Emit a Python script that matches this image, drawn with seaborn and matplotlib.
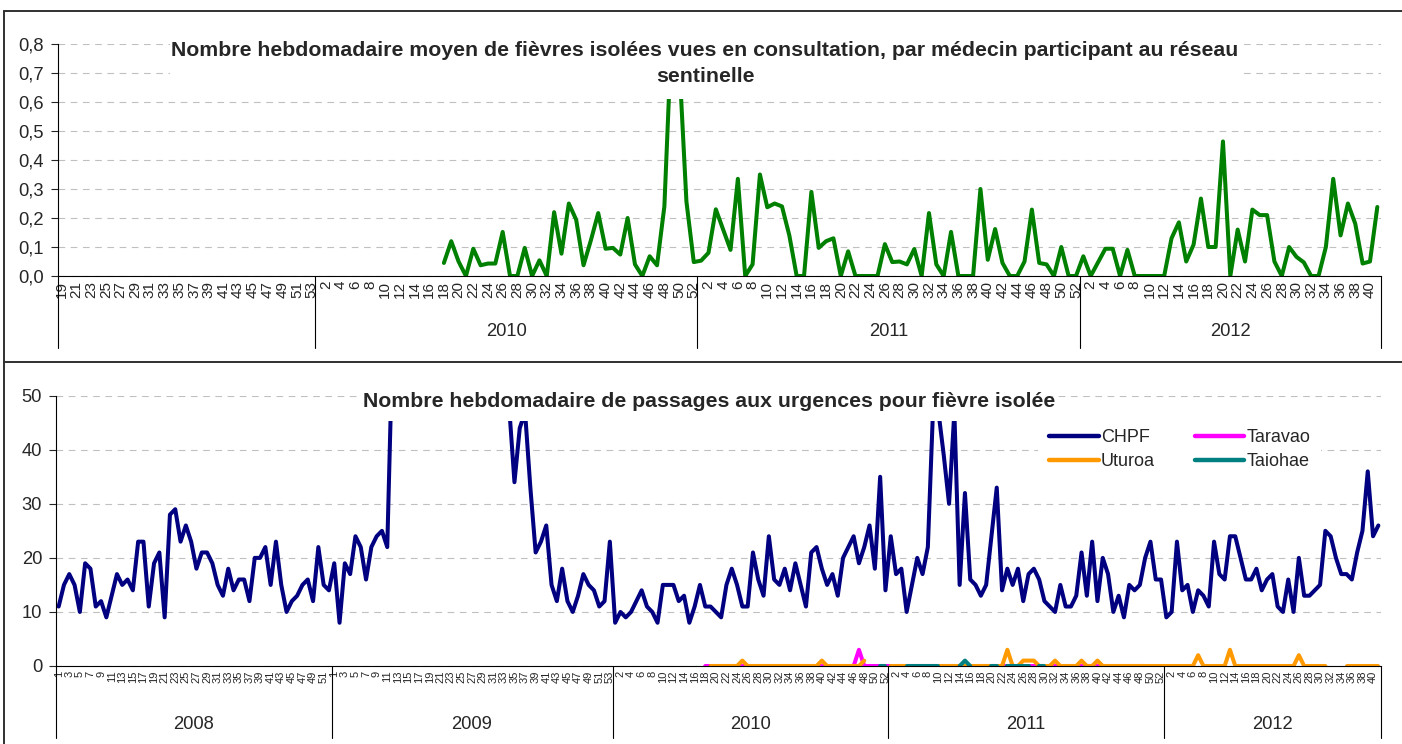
import numpy as np
import pandas as pd
import matplotlib
matplotlib.use("Agg")
import matplotlib.pyplot as plt
import matplotlib.transforms as mtransforms
from matplotlib.patches import Rectangle
from matplotlib.lines import Line2D
import seaborn as sns

# ---- axe des semaines, graphique du haut (2009-S19 -> 2012-S41)
sem_haut_2009 = list(range(19, 54))
sem_haut_2010 = list(range(1, 53))
sem_haut_2011 = list(range(1, 53))
sem_haut_2012 = list(range(1, 42))
annees_haut = ["", "2010", "2011", "2012"]

# fièvres isolées / médecin sentinelle (début 2010-S18)
medecin_2010 = [0.045, 0.12, 0.05, 0.0, 0.094, 0.037, 0.043, 0.043, 0.152, 0.0,
                0.0, 0.097, 0.0, 0.054, 0.0, 0.22, 0.077, 0.25, 0.194, 0.037,
                0.123, 0.217, 0.094, 0.097, 0.074, 0.20, 0.04, 0.0, 0.068, 0.037,
                0.24, 0.85, 0.75, 0.257, 0.048]
medecin_2011 = [0.053, 0.08, 0.23, 0.16, 0.09, 0.335, 0.0, 0.04, 0.35, 0.237,
                0.25, 0.24, 0.14, 0.0, 0.0, 0.29, 0.097, 0.12, 0.13, 0.0,
                0.085, 0.0, 0.0, 0.0, 0.0, 0.11, 0.048, 0.05, 0.04, 0.093,
                0.0, 0.217, 0.04, 0.0, 0.152, 0.0, 0.0, 0.0, 0.30, 0.056,
                0.162, 0.045, 0.0, 0.0, 0.05, 0.229, 0.045, 0.04, 0.0, 0.10,
                0.0, 0.0]
medecin_2012 = [0.068, 0.0, 0.047, 0.094, 0.094, 0.0, 0.09, 0.0, 0.0, 0.0,
                0.0, 0.0, 0.13, 0.185, 0.05, 0.108, 0.267, 0.10, 0.10, 0.464,
                0.0, 0.16, 0.05, 0.229, 0.21, 0.21, 0.05, 0.0, 0.10, 0.066,
                0.047, 0.0, 0.0, 0.10, 0.335, 0.14, 0.25, 0.18, 0.043, 0.05,
                0.238]

# ---- axe des semaines, graphique du bas (2008-S1 -> 2012-S41)
sem_bas_2008 = list(range(1, 53))
sem_bas_2009 = list(range(1, 54))
sem_bas_2010 = list(range(1, 53))
sem_bas_2011 = list(range(1, 53))
sem_bas_2012 = list(range(1, 42))
annees_bas = ["2008", "2009", "2010", "2011", "2012"]

chpf_2008 = [11, 15, 17, 15, 10, 19, 18, 11, 12, 9, 13, 17, 15, 16, 14, 23, 23, 11,
             19, 21, 9, 28, 29, 23, 26, 23, 18, 21, 21, 19, 15, 13, 18, 14, 16, 16,
             12, 20, 20, 22, 15, 23, 15, 10, 12, 13, 15, 16, 12, 22, 15, 14]
chpf_2009 = [19, 8, 19, 17, 24, 22, 16, 22, 24, 25, 22,
             60, 75, 90, 100, 110, 105, 95, 90, 85, 80, 75, 70, 65, 60, 58, 55,
             52, 50, 50, 52, 55, 50, 48,
             34, 44, 47, 33, 21, 23, 26, 15, 12, 18, 12, 10, 13, 17, 15, 14, 11,
             12, 23]
chpf_2010 = [8, 10, 9, 10, 12, 14, 11, 10, 8, 15, 15, 15, 12, 13, 8, 11, 15, 11,
             11, 10, 9, 15, 18, 15, 11, 11, 21, 16, 13, 24, 16, 15, 18, 14, 19, 15,
             11, 21, 22, 18, 15, 17, 13, 20, 22, 24, 19, 22, 26, 18, 35, 14]
chpf_2011 = [24, 17, 18, 10, 15, 20, 17, 22, 48, 47, 39, 30, 47, 15, 32, 16, 15,
             13, 15, 24, 33, 14, 18, 15, 18, 12, 17, 18, 16, 12, 11, 10, 15, 11,
             11, 13, 21, 13, 23, 12, 20, 17, 10, 13, 9, 15, 14, 15, 20, 23, 16, 16]
chpf_2012 = [9, 10, 23, 14, 15, 10, 14, 13, 11, 23, 17, 16, 24, 24, 20, 16, 16, 18,
             14, 16, 17, 11, 10, 16, 10, 20, 13, 13, 14, 15, 25, 24, 20, 17, 17, 16,
             21, 25, 36, 24, 26]

# autres sites : semaines 2010-S18 -> 2012-S41 (None = pas de donnée)
n = None
taravao = ([0] * 29 + [3] + [0] * 54 + [n] * 43)
uturoa = ([n] + [0] * 6 + [1] + [0] * 14 + [1] + [0] * 7 + [1] + [n] * 4
          + [0] * 22 + [3] + [0] * 2 + [1, 1, 1] + [0] * 3 + [1] + [0] * 4 + [1]
          + [0] * 2 + [1] + [0] * 18 + [2] + [0] * 5 + [3] + [0] * 12 + [2]
          + [0] * 5 + [n] * 3 + [0] * 7)
taiohae = ([n] * 33 + [0, 0] + [n] * 3 + [0] * 7 + [n] * 3 + [0, 1, 0] + [n] * 3
           + [0, 0] + [n] + [0] * 5 + [n] + [0, 0] + [n] * 63)

VERT = "#008000"
COULEURS = {"CHPF": "#000080", "Taravao": "#FF00FF", "Uturoa": "#FF9900", "Taiohae": "#008080"}
LW = 2.9

sns.set_style("white")
plt.rcParams["font.family"] = ["Liberation Sans", "DejaVu Sans"]


def trace(ax, valeurs, debut, couleur, z=2):
    y = np.array([np.nan if v is None else v for v in valeurs], dtype=float)
    df = pd.DataFrame({"x": np.arange(debut, debut + len(y)), "y": y})
    df["seg"] = df["y"].isna().cumsum()
    df = df.dropna()
    sns.lineplot(data=df, x="x", y="y", units="seg", estimator=None, color=couleur,
                 linewidth=LW, ax=ax, legend=False, zorder=z,
                 solid_capstyle="round", solid_joinstyle="round")


def axe_semaines(ax, groupes, annees, fs, prof, y_an):
    semaines = sum(groupes, [])
    nb = len(semaines)
    ax.set_xlim(-0.5, nb - 0.5)
    ax.set_xticks(np.arange(0, nb, 2))
    ax.set_xticklabels([str(s) for s in semaines[::2]], rotation=90, fontsize=fs)
    ax.set_xticks(np.arange(-0.5, nb, 1), minor=True)
    ax.tick_params(axis="x", which="major", length=0, pad=3.5)
    ax.tick_params(axis="x", which="minor", length=24.5, width=0.8,
                   color="black", direction="out")
    trans = mtransforms.blended_transform_factory(ax.transData, ax.transAxes)
    bornes = np.concatenate([[0], np.cumsum([len(g) for g in groupes])]) - 0.5
    for b in bornes:
        ax.plot([b, b], [0, -prof], transform=trans, clip_on=False,
                color="black", lw=0.8)
    for a, g0, g1 in zip(annees, bornes[:-1], bornes[1:]):
        ax.text((g0 + g1) / 2, -y_an, a, transform=trans, ha="center",
                va="center", fontsize=13.2)
    ax.set_xlabel("")
    ax.set_ylabel("")


def style_y(ax):
    for s in ["top", "right"]:
        ax.spines[s].set_visible(False)
    for s in ["left", "bottom"]:
        ax.spines[s].set_color("black")
        ax.spines[s].set_linewidth(0.8)
    ax.yaxis.grid(True, color="#c0c0c0", linestyle=(0, (6, 5)), lw=0.8)
    ax.xaxis.grid(False)
    ax.set_axisbelow(True)
    ax.tick_params(axis="y", direction="out", length=5, width=0.8,
                   labelsize=13.2, pad=5, left=True)


fig = plt.figure(figsize=(14.02, 7.44), dpi=100)

# ----------------- graphique du haut
ax1 = fig.add_axes([58 / 1402, 468 / 744, 1323 / 1402, 232 / 744])
nb_2009 = len(sem_haut_2009)
trace(ax1, medecin_2010 + medecin_2011 + medecin_2012, nb_2009 + 17, VERT)
ax1.set_ylim(0, 0.8)
ax1.set_yticks(np.arange(0, 0.81, 0.1))
ax1.set_yticklabels([f"{v:.1f}".replace(".", ",") for v in np.arange(0, 0.81, 0.1)])
style_y(ax1)
axe_semaines(ax1, [sem_haut_2009, sem_haut_2010, sem_haut_2011, sem_haut_2012],
             annees_haut, 11, 0.31, 0.241)
ax1.add_patch(Rectangle((0.0847, 0.763), 0.8087, 0.30, transform=ax1.transAxes,
                        facecolor="white", edgecolor="none", zorder=4, clip_on=False))
ax1.text(0.489, 1.015,
         "Nombre hebdomadaire moyen de fièvres isolées vues en consultation, par médecin participant au réseau\nsentinelle",
         transform=ax1.transAxes, ha="center", va="top", multialignment="center",
         fontsize=15.3, fontweight="bold", linespacing=1.5, zorder=5)

# ----------------- graphique du bas
ax2 = fig.add_axes([56 / 1402, 78 / 744, 1325 / 1402, 270.3 / 744])
chpf = chpf_2008 + chpf_2009 + chpf_2010 + chpf_2011 + chpf_2012
trace(ax2, chpf, 0, COULEURS["CHPF"])
d_sites = len(sem_bas_2008) + len(sem_bas_2009) + 17
trace(ax2, taravao, d_sites, COULEURS["Taravao"], 2.1)
trace(ax2, uturoa, d_sites, COULEURS["Uturoa"], 2.2)
trace(ax2, taiohae, d_sites, COULEURS["Taiohae"], 2.3)
ax2.set_ylim(0, 50)
ax2.set_yticks(np.arange(0, 51, 10))
style_y(ax2)
axe_semaines(ax2, [sem_bas_2008, sem_bas_2009, sem_bas_2010, sem_bas_2011, sem_bas_2012],
             annees_bas, 8, 0.266, 0.218)
ax2.add_patch(Rectangle((0.227, 0.906), 0.525, 0.14, transform=ax2.transAxes,
                        facecolor="white", edgecolor="none", zorder=4, clip_on=False))
ax2.text(0.4928, 0.978, "Nombre hebdomadaire de passages aux urgences pour fièvre isolée",
         transform=ax2.transAxes, ha="center", va="center", fontsize=15.3,
         fontweight="bold", zorder=5)

ordre = ["CHPF", "Uturoa", "Taravao", "Taiohae"]
poignees = [Line2D([], [], color=COULEURS[k], lw=LW * 1.1, solid_capstyle="round") for k in ordre]
leg = ax2.legend(poignees, ordre, ncol=2, loc="center", bbox_to_anchor=(0.848, 0.80),
                 frameon=True, fontsize=13, handlelength=2.75, handletextpad=0.12,
                 columnspacing=2.2, labelspacing=0.38, borderpad=0.6)
leg.get_frame().set_edgecolor("none")
leg.get_frame().set_facecolor("white")
leg.get_frame().set_alpha(1)
leg.set_zorder(5)

# cadres
bord = dict(transform=fig.transFigure, color="#303030", lw=1.4)
fig.add_artist(Line2D([4 / 1402, 1], [1 - 11 / 744] * 2, **bord))
fig.add_artist(Line2D([4 / 1402, 1], [1 - 362 / 744] * 2, **bord))
fig.add_artist(Line2D([4 / 1402] * 2, [0, 1 - 11 / 744], **bord))

fig.savefig("out.png", dpi=100, facecolor="white")
